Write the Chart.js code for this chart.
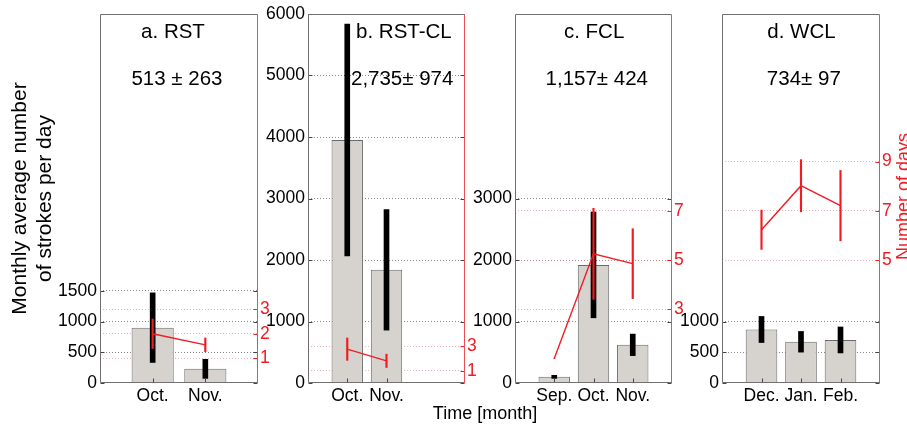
<!DOCTYPE html>
<html><head><meta charset="utf-8">
<script src="https://cdn.jsdelivr.net/npm/chart.js@4.4.1/dist/chart.umd.min.js"></script>
<style>
html,body{margin:0;padding:0;background:#fff;}
body{width:907px;height:425px;position:relative;overflow:hidden;font-family:"Liberation Sans",Arial,sans-serif;}
canvas{position:absolute;top:0;}
#xlab{position:absolute;left:385px;width:200px;text-align:center;top:403px;font-size:18px;line-height:20px;color:#000;white-space:nowrap;}
</style></head><body>
<canvas id="ca" width="300" height="425" style="left:0px"></canvas>
<canvas id="cb" width="250" height="425" style="left:258px"></canvas>
<canvas id="cc" width="250" height="425" style="left:465px"></canvas>
<canvas id="cd" width="235" height="425" style="left:672px"></canvas>
<div id="xlab">Time [month]</div>
<script>
// ---------- data ----------
const panelTitles = ['a. RST', 'b. RST-CL', 'c. FCL', 'd. WCL'];
const panelStats  = ['513 \u00b1 263', '2,735\u00b1 974', '1,157\u00b1 424', '734\u00b1 97'];

const monthsA = ['Oct.', 'Nov.'];
const strokesA = [900, 230];
const strokesErrA = [566, 155];
const daysA = [2.0, 1.55];
const daysErrA = [0.6, 0.28];

const monthsB = ['Oct.', 'Nov.'];
const strokesB = [3950, 1840];
const strokesErrB = [1885, 980];
const daysB = [2.75, 1.8];
const daysErrB = [0.91, 0.54];

const monthsC = ['Sep.', 'Oct.', 'Nov.'];
const strokesC = [100, 1920, 620];
const strokesErrC = [25, 860, 175];
const daysC = [1.0, 5.25, 4.85];
const daysErrC = [0, 1.85, 1.42];

const monthsD = ['Dec.', 'Jan.', 'Feb.'];
const strokesD = [870, 670, 700];
const strokesErrD = [212, 168, 211];
const daysD = [6.23, 8.02, 7.21];
const daysErrD = [0.8, 1.06, 1.43];

const strokeTicksA = [0, 500, 1000, 1500];
const strokeTicksB = [0, 1000, 2000, 3000, 4000, 5000, 6000];
const strokeTicksC = [0, 1000, 2000, 3000];
const strokeTicksD = [0, 500, 1000];
const dayTicksA = [1, 2, 3];
const dayTicksB = [1, 3];
const dayTicksC = [3, 5, 7];
const dayTicksD = [5, 7, 9];
const strokeMax = 6000;
const dayMaxA = 15, dayMaxB = 30, dayMaxC = 15, dayMaxD = 15;

const leftTitle = ['Monthly average number', 'of strokes per day'];
const rightTitle = 'Number of days';

// ---------- styles ----------
const FONT = '"Liberation Sans", Arial, sans-serif';
const RED = '#f01c24';
const GRAY = '#707070';
const BAR = '#d6d3ce';

function makePanel(p) {
  const N = p.slots;
  const pad = arr => { const out = [null].concat(arr); while (out.length < N + 1) out.push(null); return out; };
  const labels = pad(p.months).map(v => v === null ? '' : v);
  const errRange = (m, e) => m.map((v, i) => [v - e[i], v + e[i]]);

  const decor = {
    id: 'decor' + p.id,
    afterDraw(chart) {
      const ctx = chart.ctx, a = chart.chartArea;
      const y = chart.scales.y, y2 = chart.scales.y2, x = chart.scales.x;
      const L = Math.round(a.left) + 0.5, R = Math.round(a.right) - 0.5;
      const T = Math.round(a.top) + 0.5, B = Math.round(a.bottom) - 0.5;
      ctx.save();
      ctx.lineWidth = 1;
      ctx.strokeStyle = '#444';
      p.strokeTicks.forEach(v => {
        const py = Math.round(y.getPixelForValue(v)) + 0.5;
        ctx.beginPath(); ctx.moveTo(L, py); ctx.lineTo(L + 4, py); ctx.stroke();
        ctx.beginPath(); ctx.moveTo(R - 4, py); ctx.lineTo(R, py); ctx.stroke();
      });
      p.months.forEach((m, i) => {
        const px = Math.round(x.getPixelForValue(i + 1)) + 0.5;
        ctx.beginPath(); ctx.moveTo(px, B); ctx.lineTo(px, B - 4); ctx.stroke();
      });
      ctx.strokeStyle = RED;
      p.dayTicks.forEach(v => {
        const py = Math.round(y2.getPixelForValue(v)) + 0.5;
        ctx.beginPath(); ctx.moveTo(R - 4, py); ctx.lineTo(R, py); ctx.stroke();
      });
      ctx.strokeStyle = GRAY;
      ctx.beginPath();
      ctx.moveTo(R, T); ctx.lineTo(L, T); ctx.lineTo(L, B); ctx.lineTo(R, B);
      ctx.stroke();
      ctx.strokeStyle = '#e85055';
      ctx.beginPath(); ctx.moveTo(R, T); ctx.lineTo(R, B + 0.5); ctx.stroke();
      ctx.fillStyle = '#000';
      ctx.font = '20.5px ' + FONT;
      ctx.textAlign = 'center';
      ctx.textBaseline = 'alphabetic';
      ctx.fillText(p.title, a.left + p.titleFrac * (a.right - a.left), a.top + 24);
      ctx.fillText(p.stat, a.left + p.statFrac * (a.right - a.left), a.top + 71);
      if (p.rightTitle) {
        ctx.save();
        ctx.translate(a.right + 24, (a.top + a.bottom) / 2 - 2);
        ctx.rotate(-Math.PI / 2);
        ctx.fillStyle = RED;
        ctx.font = '18px ' + FONT;
        ctx.textBaseline = 'middle';
        ctx.fillText(p.rightTitle, 0, 0);
        ctx.restore();
      }
      ctx.restore();
    }
  };

  return new Chart(document.getElementById(p.id), {
    type: 'bar',
    data: {
      labels: labels,
      datasets: [
        { type: 'line', data: pad(p.days), yAxisID: 'y2', borderColor: RED, borderWidth: 1.4,
          pointRadius: 0, tension: 0, fill: false, order: 0 },
        { type: 'bar', data: pad(errRange(p.days, p.daysErr)), yAxisID: 'y2', backgroundColor: RED,
          borderWidth: 0, barThickness: 1.5, grouped: false, order: 1 },
        { type: 'bar', data: pad(errRange(p.strokes, p.strokesErr)), yAxisID: 'y', backgroundColor: '#000',
          borderWidth: 0, barThickness: 5, grouped: false, order: 2 },
        { type: 'bar', data: pad(p.strokes), yAxisID: 'y', backgroundColor: BAR, borderColor: '#6a6a6a',
          borderWidth: 1, borderSkipped: 'bottom', categoryPercentage: 1, barPercentage: 0.8, grouped: false, order: 3 }
      ]
    },
    options: {
      responsive: false,
      animation: false,
      events: [],
      layout: { padding: { top: 14, bottom: 0, left: 0, right: 0 } },
      plugins: { legend: { display: false }, tooltip: { enabled: false }, title: { display: false } },
      scales: {
        x: {
          type: 'category', offset: false,
          grid: { display: false, drawTicks: false }, border: { display: false },
          ticks: { color: '#000', font: { family: FONT, size: 17.5 }, padding: 3, autoSkip: false, maxRotation: 0 },
          afterFit: s => { s.height = 42; }
        },
        y: {
          position: 'left', min: 0, max: strokeMax,
          afterBuildTicks: s => { s.ticks = p.strokeTicks.map(v => ({ value: v })); },
          grid: { color: c => (c.tick && c.tick.value === 0) ? 'rgba(0,0,0,0)' : '#8a8a8a', drawTicks: false, lineWidth: 1 },
          border: { display: false, dash: [1, 2] },
          ticks: { color: '#000', font: { family: FONT, size: 17.5 }, padding: 3, callback: v => String(v) },
          title: p.leftTitle ? { display: true, text: p.leftTitle, color: '#000',
            font: { family: FONT, size: 21, lineHeight: 1.17 }, padding: { top: 8, bottom: 0 } } : { display: false },
          afterFit: s => { s.width = p.leftW; }
        },
        y2: {
          position: 'right', min: 0, max: p.dayMax, z: 1,
          afterBuildTicks: s => { s.ticks = p.dayTicks.map(v => ({ value: v })); },
          grid: { color: 'rgba(215,130,135,0.6)', drawTicks: false, lineWidth: 1 },
          border: { display: false, dash: [1, 2] },
          ticks: { color: RED, font: { family: FONT, size: 17.5 }, padding: 2, callback: v => String(v) },
          afterFit: s => { s.width = p.rightW; }
        }
      }
    },
    plugins: [decor]
  });
}

makePanel({ id: 'ca', slots: 3, months: monthsA, strokes: strokesA, strokesErr: strokesErrA, days: daysA, daysErr: daysErrA,
  strokeTicks: strokeTicksA, dayTicks: dayTicksA, dayMax: dayMaxA, leftW: 100, rightW: 42,
  title: panelTitles[0], stat: panelStats[0], titleFrac: 0.462, statFrac: 0.487, leftTitle: leftTitle });
makePanel({ id: 'cb', slots: 4, months: monthsB, strokes: strokesB, strokesErr: strokesErrB, days: daysB, daysErr: daysErrB,
  strokeTicks: strokeTicksB, dayTicks: dayTicksB, dayMax: dayMaxB, leftW: 50, rightW: 43,
  title: panelTitles[1], stat: panelStats[1], titleFrac: 0.611, statFrac: 0.6 });
makePanel({ id: 'cc', slots: 4, months: monthsC, strokes: strokesC, strokesErr: strokesErrC, days: daysC, daysErr: daysErrC,
  strokeTicks: strokeTicksC, dayTicks: dayTicksC, dayMax: dayMaxC, leftW: 50, rightW: 43,
  title: panelTitles[2], stat: panelStats[2], titleFrac: 0.504, statFrac: 0.521 });
makePanel({ id: 'cd', slots: 4, months: monthsD, strokes: strokesD, strokesErr: strokesErrD, days: daysD, daysErr: daysErrD,
  strokeTicks: strokeTicksD, dayTicks: dayTicksD, dayMax: dayMaxD, leftW: 50, rightW: 27,
  title: panelTitles[3], stat: panelStats[3], titleFrac: 0.503, statFrac: 0.518, rightTitle: rightTitle });
</script>
</body></html>
